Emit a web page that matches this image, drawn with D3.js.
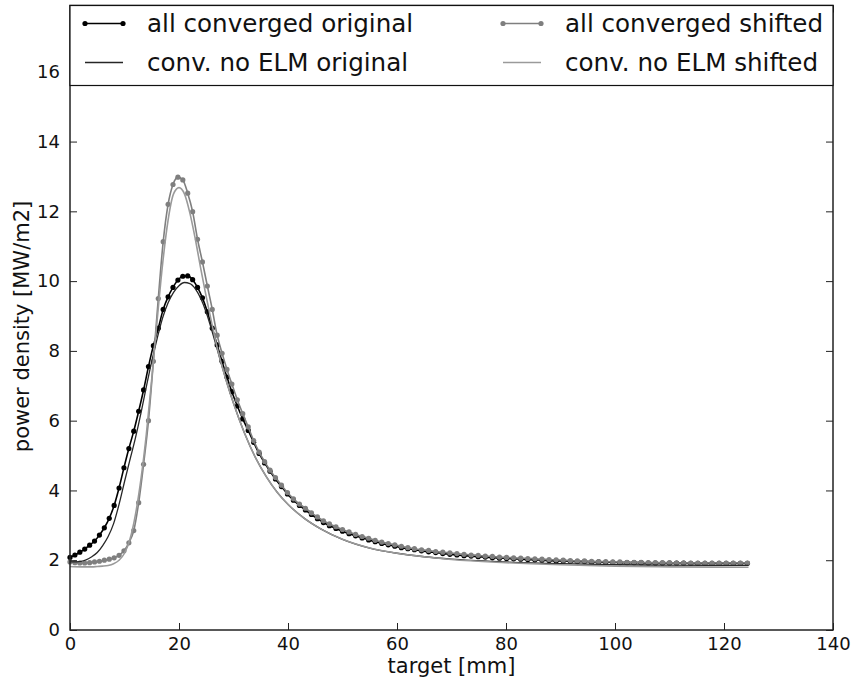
<!DOCTYPE html>
<html>
<head>
<meta charset="utf-8">
<script src="https://cdn.jsdelivr.net/npm/d3@7"></script>
<style>
  body { margin: 0; background: #fff; }
  svg { font-family: "DejaVu Sans", sans-serif; }
</style>
</head>
<body>
<div id="chart"></div>
<script>
// target positions of the dotted series [mm]
var xDots = [0, 0.9, 1.8, 2.7, 3.6, 4.5, 5.4, 6.3, 7.2, 8.1, 9.0, 9.9, 10.8, 11.7, 12.6, 13.5, 14.4, 15.3, 16.2, 17.1,
  18.0, 18.9, 19.8, 20.7, 21.6, 22.5, 23.4, 24.3, 25.2, 26.1, 27.0, 27.9, 28.8, 29.7, 30.7, 31.7, 32.7, 33.7, 34.7, 35.7,
  36.7, 37.7, 38.8, 39.9, 41.0, 42.1, 43.2, 44.3, 45.4, 46.5, 47.6, 48.8, 50.0, 51.2, 52.4, 53.6, 54.8, 56.0, 57.2, 58.4,
  59.6, 60.8, 62.0, 63.2, 64.5, 65.8, 67.1, 68.4, 69.7, 71.0, 72.3, 73.6, 74.9, 76.2, 77.5, 78.8, 80.1, 81.4, 82.7, 84.0,
  85.3, 86.6, 87.9, 89.2, 90.5, 91.8, 93.1, 94.4, 95.7, 97.0, 98.3, 99.6, 100.9, 102.2, 103.5, 104.8, 106.1, 107.4, 108.7, 110.0,
  111.3, 112.6, 113.9, 115.2, 116.5, 117.8, 119.1, 120.4, 121.7, 123.0, 124.3];

// all converged original [MW/m2]
var allOrig = [2.08, 2.15, 2.23, 2.32, 2.43, 2.55, 2.72, 2.93, 3.2, 3.57, 4.07, 4.65, 5.2, 5.7, 6.27, 6.88, 7.55, 8.15, 8.65, 9.19,
  9.55, 9.82, 10.03, 10.14, 10.15, 10.04, 9.82, 9.52, 9.12, 8.65, 8.17, 7.7, 7.25, 6.83, 6.42, 6.05, 5.72, 5.38, 5.06, 4.79,
  4.55, 4.33, 4.11, 3.9, 3.72, 3.57, 3.44, 3.31, 3.19, 3.08, 2.99, 2.91, 2.83, 2.76, 2.7, 2.64, 2.58, 2.53, 2.48, 2.44,
  2.40, 2.36, 2.33, 2.30, 2.27, 2.24, 2.22, 2.19, 2.17, 2.15, 2.13, 2.12, 2.10, 2.09, 2.07, 2.06, 2.05, 2.04, 2.03, 2.02,
  2.01, 2.0, 1.99, 1.98, 1.98, 1.97, 1.96, 1.96, 1.95, 1.95, 1.94, 1.94, 1.93, 1.93, 1.93, 1.93, 1.92, 1.92, 1.92, 1.92,
  1.92, 1.92, 1.91, 1.91, 1.91, 1.91, 1.91, 1.91, 1.91, 1.91, 1.91];

// all converged shifted [MW/m2]
var allShift = [1.95, 1.93, 1.92, 1.92, 1.93, 1.95, 1.97, 2.0, 2.03, 2.07, 2.14, 2.27, 2.5, 2.85, 3.65, 4.75, 6.0, 7.7, 9.5, 11.13,
  12.2, 12.77, 12.98, 12.9, 12.52, 11.99, 11.2, 10.55, 9.86, 9.19, 8.45, 7.93, 7.47, 7.05, 6.6, 6.2, 5.82, 5.43, 5.1, 4.83,
  4.58, 4.37, 4.15, 3.94, 3.76, 3.61, 3.49, 3.36, 3.24, 3.13, 3.04, 2.96, 2.88, 2.81, 2.74, 2.68, 2.63, 2.57, 2.52, 2.48,
  2.44, 2.40, 2.36, 2.33, 2.30, 2.28, 2.25, 2.23, 2.21, 2.19, 2.17, 2.15, 2.14, 2.12, 2.11, 2.09, 2.08, 2.07, 2.06, 2.05,
  2.04, 2.03, 2.02, 2.01, 2.0, 1.99, 1.98, 1.98, 1.97, 1.96, 1.96, 1.95, 1.95, 1.94, 1.94, 1.94, 1.93, 1.93, 1.93, 1.93,
  1.92, 1.92, 1.92, 1.92, 1.92, 1.92, 1.92, 1.92, 1.92, 1.92, 1.92];

// target positions of the plain lines [mm]
var xLines = [0, 2, 4, 5, 6, 7, 8, 9, 10, 11, 12, 13, 14, 15, 16, 17, 18, 19, 20, 21, 22, 23, 24, 25, 26, 27, 28, 29, 30,
  32, 34, 36, 38, 40, 43, 46, 50, 55, 60, 65, 70, 80, 90, 100, 110, 124.5];

// conv. no ELM original
var noElmOrig = [1.95, 1.97, 2.1, 2.22, 2.42, 2.68, 3.05, 3.6, 4.25, 4.88, 5.5, 6.2, 6.97, 7.7, 8.36, 8.95, 9.38, 9.68, 9.87, 9.96,
  9.93, 9.78, 9.5, 9.1, 8.6, 8.05, 7.5, 6.98, 6.5, 5.65, 4.95, 4.4, 3.95, 3.6, 3.2, 2.9, 2.6, 2.35, 2.2, 2.1, 2.03,
  1.95, 1.9, 1.87, 1.86, 1.85];

// conv. no ELM shifted
var noElmShift = [1.82, 1.81, 1.81, 1.82, 1.83, 1.85, 1.9, 2.0, 2.2, 2.6, 3.3, 4.3, 5.6, 7.2, 8.9, 10.5, 11.75, 12.5, 12.68, 12.5,
  11.95, 11.2, 10.35, 9.55, 8.8, 8.1, 7.5, 6.97, 6.5, 5.65, 4.95, 4.4, 3.95, 3.6, 3.2, 2.9, 2.6, 2.35, 2.2, 2.1, 2.02,
  1.93, 1.87, 1.83, 1.81, 1.8];

var xTicks = [0, 20, 40, 60, 80, 100, 120, 140];
var yTicks = [0, 2, 4, 6, 8, 10, 12, 14, 16];
var yMax = 17.9;

var legendNames = ["all converged original", "all converged shifted", "conv. no ELM original", "conv. no ELM shifted"];

var width = 853, height = 681;
var margin = {top: 5.5, right: 20, bottom: 51, left: 70};
var plotW = width - margin.left - margin.right;
var plotH = height - margin.top - margin.bottom;

var svg = d3.select("#chart").append("svg")
    .attr("width", width)
    .attr("height", height);

var x = d3.scaleLinear().domain([0, 140]).range([0, plotW]);
var y = d3.scaleLinear().domain([0, yMax]).range([plotH, 0]);

var g = svg.append("g")
    .attr("transform", `translate(${margin.left}, ${margin.top})`);

// series
var series = [
  {xs: xDots, ys: allOrig, color: "#000000", width: 1.6, dots: true},
  {xs: xDots, ys: allShift, color: "#7f7f7f", width: 1.6, dots: true},
  {xs: xLines, ys: noElmOrig, color: "#262626", width: 1.3, dots: false},
  {xs: xLines, ys: noElmShift, color: "#9a9a9a", width: 1.6, dots: false}
];

var line = d3.line()
    .x(d => x(d[0]))
    .y(d => y(d[1]))
    .curve(d3.curveMonotoneX);

series.forEach(function(s) {
  var pts = s.xs.map((v, i) => [v, s.ys[i]]);
  g.append("path")
      .datum(pts)
      .attr("fill", "none")
      .attr("stroke", s.color)
      .attr("stroke-width", s.width)
      .attr("d", line);
  if (s.dots) {
    g.append("g").selectAll("circle")
        .data(pts)
        .enter()
        .append("circle")
        .attr("cx", d => x(d[0]))
        .attr("cy", d => y(d[1]))
        .attr("r", 2.6)
        .attr("fill", s.color);
  }
});

// axes, ticks pointing inward like the original
var tickFont = 18;
var axBottom = g.append("g")
    .attr("transform", `translate(0, ${plotH})`)
    .call(d3.axisBottom(x).tickValues(xTicks).tickSizeInner(-7).tickSizeOuter(0).tickPadding(7));
var axTop = g.append("g")
    .call(d3.axisTop(x).tickValues(xTicks).tickSizeInner(-7).tickSizeOuter(0).tickFormat(""));
var axLeft = g.append("g")
    .call(d3.axisLeft(y).tickValues(yTicks).tickSizeInner(-7).tickSizeOuter(0).tickPadding(10));
var axRight = g.append("g")
    .attr("transform", `translate(${plotW}, 0)`)
    .call(d3.axisRight(y).tickValues(yTicks).tickSizeInner(-7).tickSizeOuter(0).tickFormat(""));

[axBottom, axTop, axLeft, axRight].forEach(function(a) {
  a.select(".domain").remove();
  a.selectAll("line").attr("stroke", "#222").attr("stroke-width", 1);
  a.selectAll("text")
      .attr("font-family", "DejaVu Sans")
      .attr("font-size", tickFont)
      .attr("fill", "#111");
});

// frame
g.append("rect")
    .attr("width", plotW)
    .attr("height", plotH)
    .attr("fill", "none")
    .attr("stroke", "#222")
    .attr("stroke-width", 1.5);

// legend across the top of the axes
var leg = g.append("g");
leg.append("rect")
    .attr("x", 0)
    .attr("y", 0)
    .attr("width", plotW)
    .attr("height", 80)
    .attr("fill", "#fff")
    .attr("stroke", "#111")
    .attr("stroke-width", 1.2);

var legItems = [
  {name: legendNames[0], s: series[0], cx: 15, cy: 18},
  {name: legendNames[1], s: series[1], cx: 433, cy: 18},
  {name: legendNames[2], s: series[2], cx: 15, cy: 57},
  {name: legendNames[3], s: series[3], cx: 433, cy: 57}
];

legItems.forEach(function(it) {
  leg.append("line")
      .attr("x1", it.cx).attr("x2", it.cx + 38)
      .attr("y1", it.cy).attr("y2", it.cy)
      .attr("stroke", it.s.color)
      .attr("stroke-width", it.s.width);
  if (it.s.dots) {
    [it.cx, it.cx + 38].forEach(function(px) {
      leg.append("circle").attr("cx", px).attr("cy", it.cy).attr("r", 2.6).attr("fill", it.s.color);
    });
  }
  leg.append("text")
      .attr("x", it.cx + 62)
      .attr("y", it.cy)
      .attr("dy", "0.35em")
      .attr("font-size", 24.6)
      .attr("fill", "#111")
      .text(it.name);
});

// axis labels
svg.append("text")
    .attr("x", margin.left + plotW / 2)
    .attr("y", 673)
    .attr("text-anchor", "middle")
    .attr("font-size", 21)
    .attr("fill", "#111")
    .text("target [mm]");

svg.append("text")
    .attr("transform", `translate(29, ${margin.top + 321}) rotate(-90)`)
    .attr("text-anchor", "middle")
    .attr("font-size", 21)
    .attr("fill", "#111")
    .text("power density [MW/m2]");
</script>
</body>
</html>
